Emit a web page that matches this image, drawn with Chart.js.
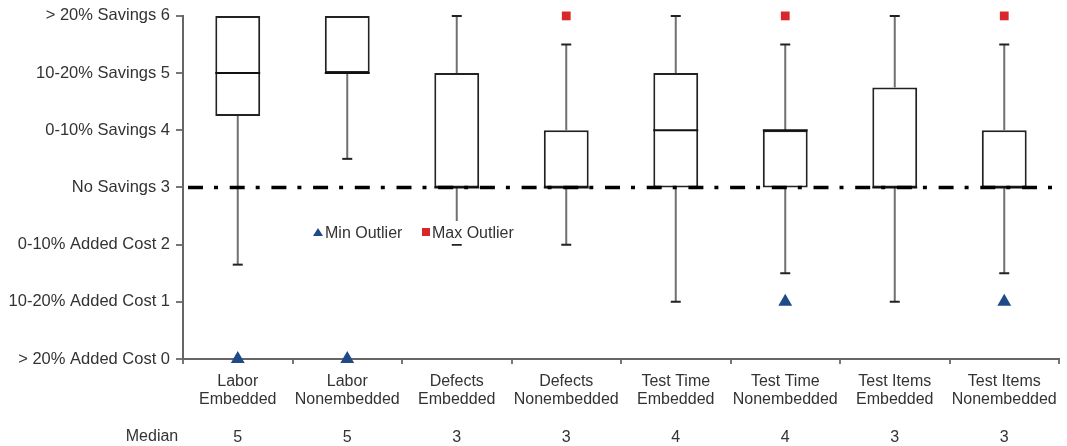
<!DOCTYPE html>
<html>
<head>
<meta charset="utf-8">
<script src="https://cdn.jsdelivr.net/npm/chart.js@4.4.1/dist/chart.umd.min.js"></script>
<style>
  html, body { margin: 0; padding: 0; background: #fff; }
  #wrap { width: 1067px; height: 446px; position: relative; }
</style>
</head>
<body>
<div id="wrap"><canvas id="boxChart" width="1067" height="446"></canvas></div>
<script>
// categories and box plot values
const categories = [
    ['Labor', 'Embedded'], ['Labor', 'Nonembedded'],
    ['Defects', 'Embedded'], ['Defects', 'Nonembedded'],
    ['Test Time', 'Embedded'], ['Test Time', 'Nonembedded'],
    ['Test Items', 'Embedded'], ['Test Items', 'Nonembedded']
];
const mins = [1.65, 3.5, 2, 2, 1, 1.5, 1, 1.5];
const q1s = [4.25, 5, 3, 3, 3, 3, 3, 3];
const medians = [5, 5, 3, 3, 4, 4, 3, 3];
const q3s = [6, 6, 5, 4, 5, 4, 4.75, 4];
const maxs = [6, 6, 6, 5.5, 6, 5.5, 6, 5.5];
const minOutliers = [0, 0, null, null, null, 1, null, 1];
const maxOutliers = [null, null, null, 6, null, 6, null, 6];
const yTickLabels = ['> 20% Added Cost', '10-20% Added Cost', '0-10% Added Cost', 'No Savings',
    '0-10% Savings', '10-20% Savings', '> 20% Savings'];
const baseline = 3;

const FONT = "'Liberation Sans', Arial, Helvetica, sans-serif";
const TEXT = '#333333';
const BLUE = '#1f4a87';
const RED = '#d8262b';

// x labels: two name lines, blank line, then the median value
const xLabels = categories.map((c, i) => [c[0], c[1], '', String(medians[i])]);

// whiskers, medians, the no-savings line and the legend
const boxExtras = {
    id: 'boxExtras',
    afterDatasetsDraw(chart) {
        const ctx = chart.ctx;
        const y = chart.scales.y;
        const bars = chart.getDatasetMeta(0).data;
        ctx.save();
        bars.forEach((bar, i) => {
            const cx = bar.x;
            const half = bar.width / 2;
            // whiskers
            ctx.strokeStyle = '#707070';
            ctx.lineWidth = 2;
            ctx.beginPath();
            if (mins[i] < q1s[i]) {
                ctx.moveTo(cx, y.getPixelForValue(q1s[i]));
                ctx.lineTo(cx, y.getPixelForValue(mins[i]));
            }
            if (maxs[i] > q3s[i]) {
                ctx.moveTo(cx, y.getPixelForValue(q3s[i]));
                ctx.lineTo(cx, y.getPixelForValue(maxs[i]));
            }
            ctx.stroke();
            // caps
            ctx.strokeStyle = '#222';
            ctx.beginPath();
            if (mins[i] < q1s[i]) {
                const py = y.getPixelForValue(mins[i]);
                ctx.moveTo(cx - 5, py);
                ctx.lineTo(cx + 5, py);
            }
            if (maxs[i] > q3s[i]) {
                const py = y.getPixelForValue(maxs[i]);
                ctx.moveTo(cx - 5, py);
                ctx.lineTo(cx + 5, py);
            }
            ctx.stroke();
            // median
            const my = y.getPixelForValue(medians[i]);
            ctx.strokeStyle = '#111';
            ctx.beginPath();
            ctx.moveTo(cx - half, my);
            ctx.lineTo(cx + half, my);
            ctx.stroke();
        });

        // dash-dot line at "No Savings"
        const by = y.getPixelForValue(baseline);
        ctx.strokeStyle = '#000';
        ctx.lineWidth = 3.5;
        ctx.setLineDash([15, 11, 4, 11.7]);
        ctx.beginPath();
        ctx.moveTo(chart.chartArea.left + 5, by);
        ctx.lineTo(chart.chartArea.right, by);
        ctx.stroke();
        ctx.setLineDash([]);

        // legend inside plot
        const lx = 318;
        const ly = 233;
        ctx.fillStyle = '#fff';
        ctx.fillRect(lx - 8, ly - 12, 210, 23);
        ctx.fillStyle = BLUE;
        ctx.beginPath();
        ctx.moveTo(lx, ly - 5);
        ctx.lineTo(lx + 5, ly + 3);
        ctx.lineTo(lx - 5, ly + 3);
        ctx.closePath();
        ctx.fill();
        ctx.font = '16px ' + FONT;
        ctx.textBaseline = 'middle';
        ctx.textAlign = 'left';
        ctx.fillStyle = TEXT;
        ctx.fillText('Min Outlier', lx + 7, ly + 1);
        ctx.fillStyle = RED;
        ctx.fillRect(lx + 104, ly - 5, 8, 8);
        ctx.fillStyle = TEXT;
        ctx.fillText('Max Outlier', lx + 114, ly + 1);

        // "Median" row label
        ctx.textAlign = 'center';
        ctx.fillText('Median', 152, 437);
        ctx.restore();
    }
};

const ctx = document.getElementById('boxChart').getContext('2d');
new Chart(ctx, {
    type: 'bar',
    data: {
        labels: xLabels,
        datasets: [
            {
                label: 'Box',
                data: q1s.map((q, i) => [q, q3s[i]]),
                backgroundColor: '#ffffff',
                borderColor: '#222222',
                borderWidth: 2,
                borderSkipped: false,
                barPercentage: 0.41,
                categoryPercentage: 1,
                order: 2
            },
            {
                type: 'line',
                label: 'Min Outlier',
                data: minOutliers,
                showLine: false,
                pointStyle: 'triangle',
                pointRadius: 8,
                pointBackgroundColor: BLUE,
                pointBorderColor: BLUE,
                pointBorderWidth: 0,
                clip: false,
                order: 1
            },
            {
                type: 'line',
                label: 'Max Outlier',
                data: maxOutliers,
                showLine: false,
                pointStyle: 'rect',
                pointRadius: 6.2,
                pointBackgroundColor: RED,
                pointBorderColor: RED,
                pointBorderWidth: 0,
                clip: false,
                order: 1
            }
        ]
    },
    options: {
        responsive: false,
        animation: false,
        layout: { padding: { top: 12, right: 4, left: 0, bottom: 0 } },
        plugins: {
            legend: { display: false },
            tooltip: { enabled: false }
        },
        scales: {
            x: {
                offset: true,
                grid: { drawOnChartArea: false, offset: true, tickLength: 5, color: '#777', lineWidth: 2 },
                border: { color: '#666', width: 2 },
                ticks: {
                    color: TEXT,
                    font: { family: FONT, size: 16, lineHeight: '18.7px' },
                    padding: 8,
                    maxRotation: 0,
                    autoSkip: false
                },
                afterFit(scale) { scale.height = 87; }
            },
            y: {
                min: 0,
                max: 6,
                grid: { drawOnChartArea: false, tickLength: 7, color: '#777', lineWidth: 2 },
                border: { color: '#666', width: 2 },
                ticks: {
                    stepSize: 1,
                    color: TEXT,
                    padding: 6,
                    font: { family: FONT, size: 16.5 },
                    callback: (v) => yTickLabels[v] + ' ' + v
                },
                afterFit(scale) { scale.width = 183; }
            }
        }
    },
    plugins: [boxExtras]
});
</script>
</body>
</html>
